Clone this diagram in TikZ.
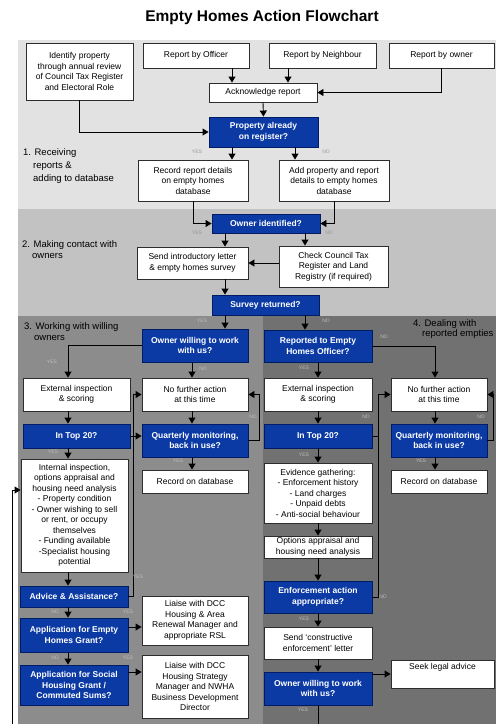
\documentclass[tikz,border=0pt]{standalone}
\usepackage{fontspec}
\setmainfont{Liberation Sans}
\usetikzlibrary{arrows.meta,calc}
\definecolor{bluebox}{RGB}{12,58,165}
\definecolor{blueedge}{RGB}{0,28,100}
\definecolor{secA}{RGB}{226,226,226}
\definecolor{secB}{RGB}{194,194,194}
\definecolor{secC}{RGB}{140,140,140}
\definecolor{secD}{RGB}{113,113,113}
\definecolor{edge}{RGB}{45,45,45}
\definecolor{lblA}{RGB}{150,150,150}
\definecolor{lblB}{RGB}{190,190,190}
\newcommand\bxnode[7]{%
 \pgfmathsetmacro\bxcx{(#3+#5)/2}%
 \pgfmathsetmacro\bxcy{(#4+#6)/2}%
 \pgfmathsetmacro\bxw{#5-#3}%
 \pgfmathsetmacro\bxh{#6-#4}%
 \node[#2, minimum width=\bxw pt, minimum height=\bxh pt] (#1) at (\bxcx,\bxcy) {#7};}
\tikzset{
 wbox/.style={draw=edge, line width=0.9pt, fill=white, inner sep=1pt, align=center, text=black, font=\fontsize{8.5}{10.5}\selectfont},
 bbox/.style={draw=blueedge, line width=0.9pt, fill=bluebox, inner sep=1pt, align=center, text=white, font=\bfseries\fontsize{8.5}{10.5}\selectfont},
 arr/.style={draw=black, line width=0.9pt, -{Triangle[length=6pt,width=7pt]}},
 ln/.style={draw=black, line width=0.9pt},
 yn/.style={font=\fontsize{5}{5}\selectfont, inner sep=0pt},
 seclbl/.style={align=left, anchor=north west, inner sep=0pt, text=black}
}
\begin{document}
\begin{tikzpicture}[x=1pt,y=-1pt]
\useasboundingbox (0,0) rectangle (496,724);
% backgrounds
\fill[white] (0,0) rectangle (496,724);
\fill[secA] (18,40) rectangle (496,209);
\fill[secB] (18,209) rectangle (496,316);
\fill[secC] (18,316) rectangle (263,724);
\fill[secD] (263,316) rectangle (496,724);
% title
\node[font=\bfseries\fontsize{15.5}{18}\selectfont] (title) at (262,17) {Empty Homes Action Flowchart};
% section labels
\node[seclbl, font=\fontsize{9.5}{13}\selectfont] (s1) at (23,148) {1. Receiving\\\hspace*{10pt}reports \&\\\hspace*{10pt}adding to database};
\node[seclbl, font=\fontsize{9.5}{11}\selectfont] (s2) at (22,240) {2. Making contact with\\\hspace*{10pt}owners};
\node[seclbl, font=\fontsize{9.5}{11}\selectfont] (s3) at (24,322) {3. Working with willing\\\hspace*{10pt}owners};
\node[seclbl, font=\fontsize{9.5}{10.5}\selectfont] (s4) at (413,319) {4. Dealing with\\\hspace*{9pt}reported empties};
% lane coordinates
\coordinate (xA) at (232,0);
\coordinate (xB) at (295,0);
\coordinate (xC) at (225,0);
\coordinate (xD) at (305,0);
\coordinate (xE) at (68,0);
\coordinate (xF) at (192,0);
\coordinate (xG) at (288,0);
\coordinate (xK) at (133,0);
\coordinate (xL) at (259,0);
\coordinate (xM) at (435,0);
\coordinate (xN) at (378,0);
\coordinate (xQ) at (493,0);
\coordinate (yG) at (0,627);
\coordinate (yH) at (0,672);
\coordinate (yR) at (0,490);
\coordinate (fb) at (12,724);
\coordinate (bot) at (0,724);
% boxes
\bxnode{ident}{wbox}{26}{43}{133}{100}{Identify property\\through annual review\\of Council Tax Register\\and Electoral Role}
\bxnode{off}{wbox}{143}{43}{249}{68}{Report by Officer}
\bxnode{nei}{wbox}{269}{43}{376}{68}{Report by Neighbour}
\bxnode{own}{wbox}{389}{43}{494}{68}{Report by owner}
\bxnode{ack}{wbox}{209}{83}{317}{102}{Acknowledge report}
\bxnode{reg}{bbox}{209}{117}{318}{147}{Property already\\on register?}
\bxnode{rec}{wbox}{138}{160}{248}{201}{Record report details\\on empty homes\\database}
\bxnode{addp}{wbox}{279}{160}{389}{201}{Add property and report\\details to empty homes\\database}
\bxnode{oid}{bbox}{212}{214}{320}{233}{Owner identified?}
\bxnode{letter}{wbox}{137}{247}{248}{279}{Send introductory letter\\\& empty homes survey}
\bxnode{check}{wbox}{279}{246}{388}{287}{Check Council Tax\\Register and Land\\Registry (if required)}
\bxnode{survey}{bbox}{212}{295}{319}{315}{Survey returned?}
\bxnode{willing}{bbox}{142}{329}{248}{362}{Owner willing to work\\with us?}
\bxnode{reported}{bbox}{264}{330}{372}{362}{Reported to Empty\\Homes Officer?}
\bxnode{extL}{wbox}{23}{378}{130}{411}{External inspection\\\& scoring}
\bxnode{nfaM}{wbox}{142}{378}{248}{411}{No further action\\at this time}
\bxnode{extR}{wbox}{264}{378}{372}{411}{External inspection\\\& scoring}
\bxnode{nfaR}{wbox}{391}{378}{487}{411}{No further action\\at this time}
\bxnode{topL}{bbox}{23}{424}{130}{448}{In Top 20?}
\bxnode{qM}{bbox}{142}{424}{248}{457}{Quarterly monitoring,\\back in use?}
\bxnode{topR}{bbox}{264}{424}{372}{448}{In Top 20?}
\bxnode{qR}{bbox}{391}{424}{487}{457}{Quarterly monitoring,\\back in use?}
\bxnode{intL}{wbox}{21}{459}{128}{572}{Internal inspection,\\options appraisal and\\housing need analysis\\- Property condition\\- Owner wishing to sell\\or rent, or occupy\\themselves\\- Funding available\\-Specialist housing\\potential}
\bxnode{recM}{wbox}{142}{470}{248}{493}{Record on database}
\bxnode{evid}{wbox}{264}{463}{372}{523}{Evidence gathering:\\- Enforcement history\\- Land charges\\- Unpaid debts\\- Anti-social behaviour}
\bxnode{recR}{wbox}{391}{470}{487}{493}{Record on database}
\bxnode{opt}{wbox}{264}{536}{372}{558}{Options appraisal and\\housing need analysis}
\bxnode{adv}{bbox}{20}{586}{128}{607}{Advice \& Assistance?}
\bxnode{enf}{bbox}{264}{581}{372}{613}{Enforcement action\\appropriate?}
\bxnode{liaiseA}{wbox}{142}{596}{248}{645}{Liaise with DCC\\Housing \& Area\\Renewal Manager and\\appropriate RSL}
\bxnode{appE}{bbox}{20}{618}{128}{652}{Application for Empty\\Homes Grant?}
\bxnode{send}{wbox}{264}{627}{372}{659}{Send ‘constructive\\enforcement’ letter}
\bxnode{liaiseB}{wbox}{142}{655}{248}{718}{Liaise with DCC\\Housing Strategy\\Manager and NWHA\\Business Development\\Director}
\bxnode{seek}{wbox}{391}{660}{494}{688}{}
\node[font=\fontsize{8.5}{10.5}\selectfont, inner sep=0pt] (seektxt) at ($(seek.north)+(0,8)$) {Seek legal advice};
\bxnode{appS}{bbox}{20}{665}{128}{705}{Application for Social\\Housing Grant /\\Commuted Sums?}
\bxnode{willR}{bbox}{264}{672}{372}{705}{Owner willing to work\\with us?}
% connectors
\draw[arr] (off.south -| xA) -- (ack.north -| xA);
\draw[arr] (nei.south -| xG) -- (ack.north -| xG);
\draw[arr] (own.south) |- (ack.east);
\draw[arr] (ack.south) -- (reg.north);
\draw[arr] (ident.south) |- (reg.west);
\draw[arr] (reg.south -| xA) -- (rec.north -| xA);
\draw[arr] (reg.south -| xB) -- (addp.north -| xB);
\draw[arr] (rec.south) |- (oid.west);
\draw[arr] (addp.south) |- (oid.east);
\draw[arr] (oid.south -| xC) -- (letter.north -| xC);
\draw[arr] (oid.south -| xD) -- (check.north -| xD);
\draw[arr] (check.west |- letter.east) -- (letter.east);
\draw[arr] (letter.south -| xC) -- (survey.north -| xC);
\draw[arr] (survey.south -| xC) -- (willing.north -| xC);
\draw[arr] (survey.south -| xD) -- (reported.north -| xD);
\draw[arr] (willing.west) -| (xE |- extL.north);
\draw[arr] (willing.south -| xF) -- (nfaM.north -| xF);
\draw[arr] (extL.south -| xE) -- (topL.north -| xE);
\draw[arr] (topL.south -| xE) -- (intL.north -| xE);
\draw[arr] (intL.south -| xE) -- (adv.north -| xE);
\draw[arr] (adv.south -| xE) -- (appE.north -| xE);
\draw[arr] (appE.south -| xE) -- (appS.north -| xE);
\draw[arr] (appE.east |- yG) -- (liaiseA.west |- yG);
\draw[arr] (appS.east |- yH) -- (liaiseB.west |- yH);
\draw[arr] (topL.east) -- (topL.east -| qM.west);
\draw[arr] (adv.east) -| (xK |- nfaM.west) -- (nfaM.west);
\draw[arr] (nfaM.south -| xF) -- (qM.north -| xF);
\draw[arr] (qM.south -| xF) -- (recM.north -| xF);
\draw[arr] (qM.east) -| (xL |- nfaM.east) -- (nfaM.east);
\draw[arr] (reported.south) -- (extR.north);
\draw[arr] (reported.east) -| (xM |- nfaR.north);
\draw[arr] (extR.south) -- (topR.north);
\draw[arr] (topR.east) -| (xN |- nfaR.west) -- (nfaR.west);
\draw[arr] (topR.south) -- (evid.north);
\draw[arr] (evid.south) -- (opt.north);
\draw[arr] (opt.south) -- (enf.north);
\draw[ln] (enf.east) -| (xN |- topR.east);
\draw[arr] (enf.south) -- (send.north);
\draw[arr] (send.south) -- (willR.north);
\draw[arr] (willR.east |- seek.west) -- (seek.west);
\draw[ln] (willR.south) -- (willR.south |- bot);
\draw[arr] (nfaR.south -| xM) -- (qR.north -| xM);
\draw[arr] (qR.south -| xM) -- (recR.north -| xM);
\draw[arr] (qR.east) -| (xQ |- nfaR.east) -- (nfaR.east);
\draw[arr] (fb) |- (intL.west |- yR);
% YES / NO labels
\node[yn,text=lblA] (l1) at (197,152) {YES};
\node[yn,text=lblA] (l2) at (326,152) {NO};
\node[yn,text=lblA] (l3) at (197,233) {YES};
\node[yn,text=lblA] (l4) at (329,233) {NO};
\node[yn,text=lblB] (l5) at (202,321) {YES};
\node[yn,text=lblB] (l6) at (326,321) {NO};
\node[yn,text=lblB] (l7) at (52,362) {YES};
\node[yn,text=lblB] (l8) at (203,369) {NO};
\node[yn,text=lblB] (l9) at (304,368) {YES};
\node[yn,text=lblB] (l10) at (384,337) {NO};
\node[yn,text=lblB] (l11) at (53,452) {YES};
\node[yn,text=lblB] (l12) at (253,417) {NO};
\node[yn,text=lblB] (l13) at (178,461) {YES};
\node[yn,text=lblB] (l14) at (366,417) {NO};
\node[yn,text=lblB] (l15) at (304,455) {YES};
\node[yn,text=lblB] (l16) at (481,417) {NO};
\node[yn,text=lblB] (l17) at (421,461) {YES};
\node[yn,text=lblB] (l18) at (138,577) {YES};
\node[yn,text=lblB] (l19) at (55,612) {NO};
\node[yn,text=lblB] (l20) at (128,612) {YES};
\node[yn,text=lblB] (l21) at (55,658) {NO};
\node[yn,text=lblB] (l22) at (128,658) {YES};
\node[yn,text=lblB] (l23) at (383,597) {NO};
\node[yn,text=lblB] (l24) at (304,619) {YES};
\node[yn,text=lblB] (l25) at (303,710) {YES};
\end{tikzpicture}
\end{document}
